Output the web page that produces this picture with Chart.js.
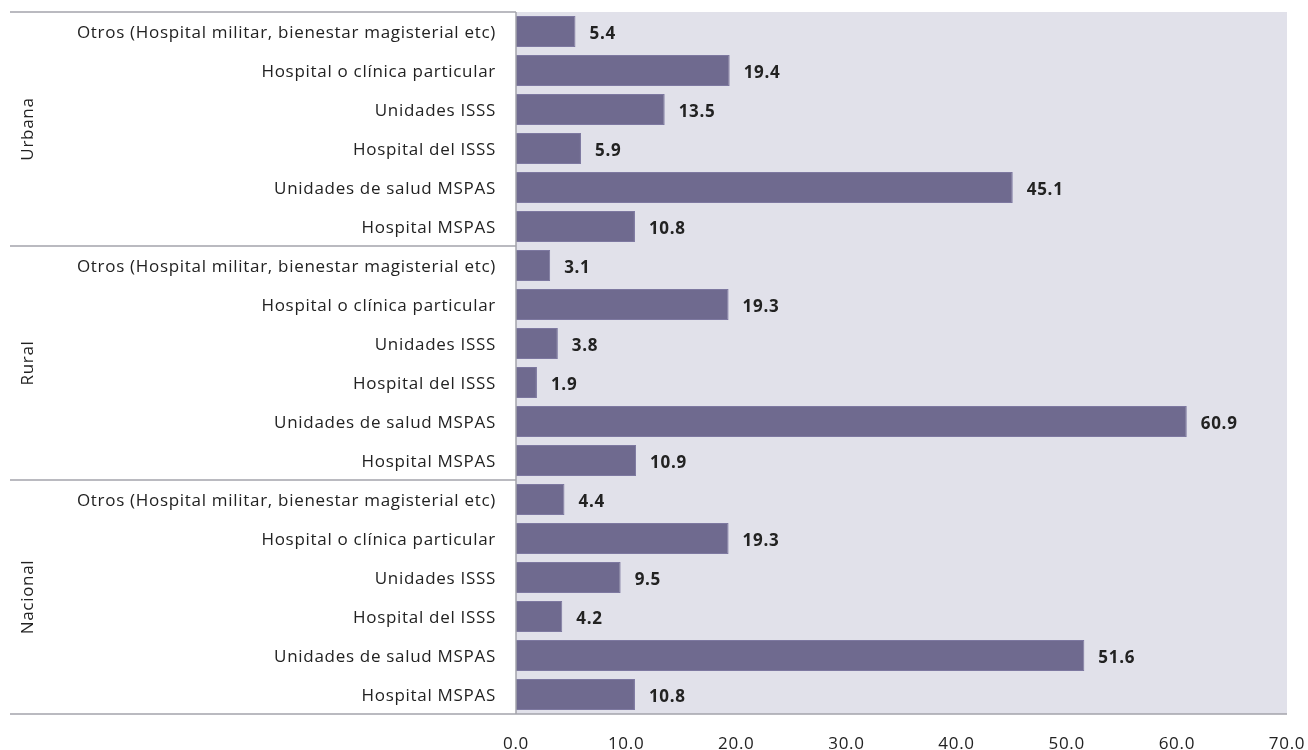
<!DOCTYPE html>
<html>
<head>
<meta charset="utf-8">
<script src="https://cdn.jsdelivr.net/npm/chart.js@4/dist/chart.umd.min.js"></script>
<style>
  html, body { margin: 0; padding: 0; background: #fff; }
  #wrap { width: 1308px; height: 750px; position: relative; }
</style>
</head>
<body>
<div id="wrap"><canvas id="chart"></canvas></div>
<script>
// Top-to-bottom order, as in the picture
const groups = ['Urbana', 'Rural', 'Nacional'];
const categories = [
    'Otros (Hospital militar, bienestar magisterial etc)',
    'Hospital o clínica particular',
    'Unidades ISSS',
    'Hospital del ISSS',
    'Unidades de salud MSPAS',
    'Hospital MSPAS'
];
const urbanaValues = [5.4, 19.4, 13.5, 5.9, 45.1, 10.8];
const ruralValues = [3.1, 19.3, 3.8, 1.9, 60.9, 10.9];
const nacionalValues = [4.4, 19.3, 9.5, 4.2, 51.6, 10.8];
const xTicks = [0, 10, 20, 30, 40, 50, 60, 70];

const labels = [...categories, ...categories, ...categories];
const values = [...urbanaValues, ...ruralValues, ...nacionalValues];

const FONT = '"Open Sans", sans-serif';
const lineColor = '#a4a4ac';

// plot background, category labels, group separators, rotated group names, value labels
const framePlugin = {
    id: 'frame',
    beforeDraw(chart) {
        const { ctx, chartArea: a } = chart;
        // the original font is spaced a bit wider
        ctx.letterSpacing = '0.7px';
        ctx.save();
        ctx.fillStyle = '#e1e1ea';
        ctx.fillRect(a.left, a.top, a.right - a.left, a.bottom - a.top);
        ctx.restore();
    },
    afterDraw(chart) {
        const { ctx, chartArea: a } = chart;
        const y = chart.scales.y;
        const per = categories.length;
        const step = (a.bottom - a.top) / labels.length;
        ctx.save();
        ctx.strokeStyle = lineColor;
        ctx.lineWidth = 1.5;
        ctx.beginPath();
        ctx.moveTo(10, a.top); ctx.lineTo(a.left, a.top);
        ctx.moveTo(a.left, a.top); ctx.lineTo(a.left, a.bottom);
        ctx.moveTo(10, a.bottom); ctx.lineTo(a.right, a.bottom);
        for (let g = 1; g < groups.length; g++) {
            const yy = a.top + g * per * step;
            ctx.moveTo(10, yy); ctx.lineTo(a.left, yy);
        }
        ctx.stroke();

        ctx.fillStyle = '#222';
        ctx.font = '17px ' + FONT;
        ctx.textBaseline = 'middle';

        // category labels
        ctx.textAlign = 'right';
        labels.forEach((lab, i) => {
            ctx.fillText(lab, a.left - 20, y.getPixelForValue(i) + 2);
        });

        ctx.textAlign = 'center';
        groups.forEach((g, i) => {
            const mid = (y.getPixelForValue(i * per) + y.getPixelForValue(i * per + per - 1)) / 2;
            ctx.save();
            ctx.translate(28, mid);
            ctx.rotate(-Math.PI / 2);
            ctx.fillText(g, 0, 0);
            ctx.restore();
        });

        // value labels
        const meta = chart.getDatasetMeta(0);
        ctx.font = 'bold 17px ' + FONT;
        ctx.textAlign = 'left';
        meta.data.forEach((bar, i) => {
            ctx.fillText(values[i].toFixed(1), bar.x + 14, bar.y + 3);
        });
        ctx.restore();
    }
};

new Chart(document.getElementById('chart'), {
    type: 'bar',
    data: {
        labels: labels,
        datasets: [{
            data: values,
            backgroundColor: '#6f6a8f',
            borderColor: '#7d78a0',
            borderWidth: 1,
            barPercentage: 0.8,
            categoryPercentage: 1.0
        }]
    },
    options: {
        indexAxis: 'y',
        responsive: true,
        maintainAspectRatio: false,
        animation: false,
        layout: { padding: { top: 12, right: 21, left: 0, bottom: 0 } },
        plugins: { legend: { display: false }, tooltip: { enabled: false } },
        scales: {
            x: {
                min: 0, max: 70,
                afterBuildTicks: s => { s.ticks = xTicks.map(v => ({ value: v })); },
                afterFit: s => { s.height = 36; s.paddingLeft = 0; s.paddingRight = 0; },
                grid: { display: false, drawTicks: false },
                border: { display: false },
                ticks: {
                    color: '#222',
                    padding: 20,
                    maxRotation: 0,
                    font: { family: FONT, size: 17 },
                    callback: v => Number(v).toFixed(1)
                }
            },
            y: {
                afterFit: s => { s.width = 516; s.paddingTop = 0; s.paddingBottom = 0; },
                grid: { display: false, drawTicks: false },
                border: { display: false },
                ticks: { display: false }
            }
        }
    },
    plugins: [framePlugin]
});
</script>
</body>
</html>
